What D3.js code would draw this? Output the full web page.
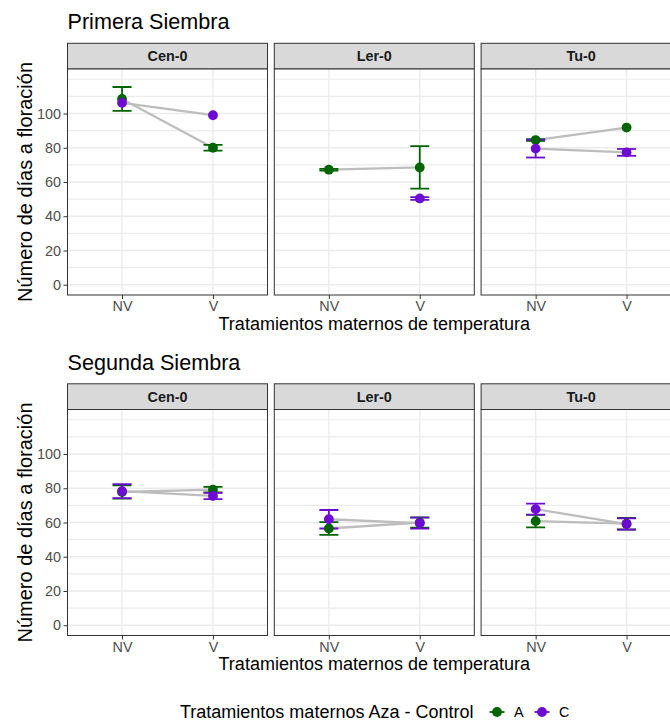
<!DOCTYPE html>
<html>
<head>
<meta charset="utf-8">
<script src="https://cdn.jsdelivr.net/npm/d3@7"></script>
<style>
  body { margin: 0; background: #fff; }
  text { font-family: "Liberation Sans", Arial, Helvetica, sans-serif; }
</style>
</head>
<body>
<script>
// ---------------- DATA ----------------
const genotypes = ["Cen-0", "Ler-0", "Tu-0"];
const treatments = ["NV", "V"];
const groups = ["A", "C"];
const groupColors = ["#006400", "#6E0BD3"];
const yTicks = [0, 20, 40, 60, 80, 100];
const yMinor = [10, 30, 50, 70, 90, 110, 120];
const plotTitles = ["Primera Siembra", "Segunda Siembra"];

// Primera Siembra: mean [NV, V] per genotype
const s1_A_mean = [[108.5, 80.0], [67.2, 68.5], [84.5, 91.8]];
const s1_A_se   = [[7.0, 1.7], [0.5, 12.4], [0.5, null]];
const s1_C_mean = [[106.2, 99.0], [null, 50.4], [79.5, 77.3]];
const s1_C_se   = [[null, null], [null, 0.8], [5.2, 2.0]];

// Segunda Siembra
const s2_A_mean = [[77.8, 79.2], [56.5, 60.0], [60.8, 59.3]];
const s2_A_se   = [[3.9, 1.6], [3.7, 3.0], [3.6, 3.4]];
const s2_C_mean = [[78.3, 75.5], [61.9, 59.6], [67.8, 59.1]];
const s2_C_se   = [[4.1, 1.8], [5.4, 3.2], [3.2, 3.3]];

// ---------------- LAYOUT ----------------
const W = 670, H = 722;
const svg = d3.select("body").append("svg").attr("width", W).attr("height", H);
svg.append("rect").attr("width", W).attr("height", H).attr("fill", "#fff");

const panelW = 200, gap = 6.8, left0 = 67.5;
const plots = [
  { title: plotTitles[0], titleY: 29, stripTop: 43.3, panelTop: 69, panelBottom: 295,
    mean: [s1_A_mean, s1_C_mean], se: [s1_A_se, s1_C_se] },
  { title: plotTitles[1], titleY: 369.5, stripTop: 383.8, panelTop: 409.5, panelBottom: 635.5,
    mean: [s2_A_mean, s2_C_mean], se: [s2_A_se, s2_C_se] }
];

const defs = svg.append("defs");

plots.forEach((p, pi) => {
  const y = d3.scaleLinear().domain([-6, 126]).range([p.panelBottom, p.panelTop]);
  const g = svg.append("g");

  // Title
  g.append("text").attr("x", left0).attr("y", p.titleY)
    .attr("font-size", 21.6).attr("fill", "#000").text(p.title);

  // Y-axis title
  const yc = (p.panelTop + p.panelBottom) / 2;
  g.append("text").attr("transform", `translate(32,${yc}) rotate(-90)`)
    .attr("text-anchor", "middle").attr("font-size", 20).attr("fill", "#000")
    .text("Número de días a floración");

  // Y axis (left of first panel)
  const yAxis = d3.axisLeft(y).tickValues(yTicks).tickSize(4).tickPadding(2.5);
  const ya = g.append("g").attr("transform", `translate(${left0},0)`).call(yAxis);
  ya.select(".domain").remove();
  ya.selectAll(".tick line").attr("stroke", "#333333").attr("stroke-width", 1);
  ya.selectAll(".tick text").attr("font-size", 14.4).attr("fill", "#4D4D4D")
    .attr("font-family", "'Liberation Sans', Arial, sans-serif");

  genotypes.forEach((gen, gi) => {
    const px = left0 + gi * (panelW + gap);
    const x = d3.scalePoint().domain(treatments).range([px, px + panelW]).padding(0.6);
    const clipId = `clip-${pi}-${gi}`;
    defs.append("clipPath").attr("id", clipId).append("rect")
      .attr("x", px).attr("y", p.panelTop).attr("width", panelW).attr("height", p.panelBottom - p.panelTop);

    const pg = g.append("g");
    // strip
    pg.append("rect").attr("x", px).attr("y", p.stripTop).attr("width", panelW)
      .attr("height", p.panelTop - p.stripTop).attr("fill", "#D9D9D9")
      .attr("stroke", "#333333").attr("stroke-width", 1);
    pg.append("text").attr("x", px + panelW / 2).attr("y", (p.stripTop + p.panelTop) / 2 + 5)
      .attr("text-anchor", "middle").attr("font-size", 14.4).attr("font-weight", "bold")
      .attr("fill", "#1A1A1A").text(gen);

    const inner = pg.append("g").attr("clip-path", `url(#${clipId})`);
    inner.append("rect").attr("x", px).attr("y", p.panelTop).attr("width", panelW)
      .attr("height", p.panelBottom - p.panelTop).attr("fill", "#fff");
    // grid
    inner.selectAll(".minor").data(yMinor).enter().append("line")
      .attr("x1", px).attr("x2", px + panelW).attr("y1", d => y(d)).attr("y2", d => y(d))
      .attr("stroke", "#EBEBEB").attr("stroke-width", 1.1);
    inner.selectAll(".major").data(yTicks).enter().append("line")
      .attr("x1", px).attr("x2", px + panelW).attr("y1", d => y(d)).attr("y2", d => y(d))
      .attr("stroke", "#EBEBEB").attr("stroke-width", 1.4);
    inner.selectAll(".vgrid").data(treatments).enter().append("line")
      .attr("x1", d => x(d)).attr("x2", d => x(d)).attr("y1", p.panelTop).attr("y2", p.panelBottom)
      .attr("stroke", "#EBEBEB").attr("stroke-width", 1.4);

    // lines per group
    groups.forEach((grp, k) => {
      const vals = treatments.map((t, ti) => ({ t, v: p.mean[k][gi][ti] })).filter(d => d.v != null);
      if (vals.length > 1) {
        inner.append("path").datum(vals)
          .attr("d", d3.line().x(d => x(d.t)).y(d => y(d.v)))
          .attr("fill", "none").attr("stroke", "#BDBDBD").attr("stroke-width", 2.3);
      }
    });
    // error bars
    groups.forEach((grp, k) => {
      treatments.forEach((t, ti) => {
        const m = p.mean[k][gi][ti], s = p.se[k][gi][ti];
        if (m == null || s == null) return;
        const cx = x(t), hw = 9.5, col = groupColors[k];
        const eg = inner.append("g").attr("stroke", col).attr("stroke-width", 1.8).attr("fill", "none");
        eg.append("line").attr("x1", cx).attr("x2", cx).attr("y1", y(m - s)).attr("y2", y(m + s));
        eg.append("line").attr("x1", cx - hw).attr("x2", cx + hw).attr("y1", y(m + s)).attr("y2", y(m + s));
        eg.append("line").attr("x1", cx - hw).attr("x2", cx + hw).attr("y1", y(m - s)).attr("y2", y(m - s));
      });
    });
    // points
    groups.forEach((grp, k) => {
      treatments.forEach((t, ti) => {
        const m = p.mean[k][gi][ti];
        if (m == null) return;
        inner.append("circle").attr("cx", x(t)).attr("cy", y(m)).attr("r", 4.9)
          .attr("fill", groupColors[k]);
      });
    });

    // border
    pg.append("rect").attr("x", px).attr("y", p.panelTop).attr("width", panelW)
      .attr("height", p.panelBottom - p.panelTop).attr("fill", "none")
      .attr("stroke", "#333333").attr("stroke-width", 1);

    // x axis
    const xAxis = d3.axisBottom(x).tickSize(4).tickPadding(2);
    const xa = pg.append("g").attr("transform", `translate(0,${p.panelBottom})`).call(xAxis);
    xa.select(".domain").remove();
    xa.selectAll(".tick line").attr("stroke", "#333333").attr("stroke-width", 1);
    xa.selectAll(".tick text").attr("font-size", 14.4).attr("fill", "#4D4D4D")
      .attr("font-family", "'Liberation Sans', Arial, sans-serif");
  });

  // X-axis title
  const xc = (left0 + left0 + 2 * (panelW + gap) + panelW) / 2;
  g.append("text").attr("x", xc).attr("y", p.panelBottom + 34.5)
    .attr("text-anchor", "middle").attr("font-size", 18).attr("fill", "#000")
    .text("Tratamientos maternos de temperatura");
});

// ---------------- LEGEND ----------------
const lg = svg.append("g");
const legY = 712;
lg.append("text").attr("x", 180).attr("y", legY + 6).attr("font-size", 18).attr("fill", "#000")
  .text("Tratamientos maternos Aza - Control");
const keyX = [497, 542];
groups.forEach((grp, k) => {
  lg.append("line").attr("x1", keyX[k] - 7.5).attr("x2", keyX[k] + 7.5)
    .attr("y1", legY).attr("y2", legY).attr("stroke", groupColors[k]).attr("stroke-width", 1.8);
  lg.append("circle").attr("cx", keyX[k]).attr("cy", legY).attr("r", 4.9).attr("fill", groupColors[k]);
  lg.append("text").attr("x", keyX[k] + 17).attr("y", legY + 5.2).attr("font-size", 14.4)
    .attr("fill", "#000").text(grp);
});
</script>
</body>
</html>
